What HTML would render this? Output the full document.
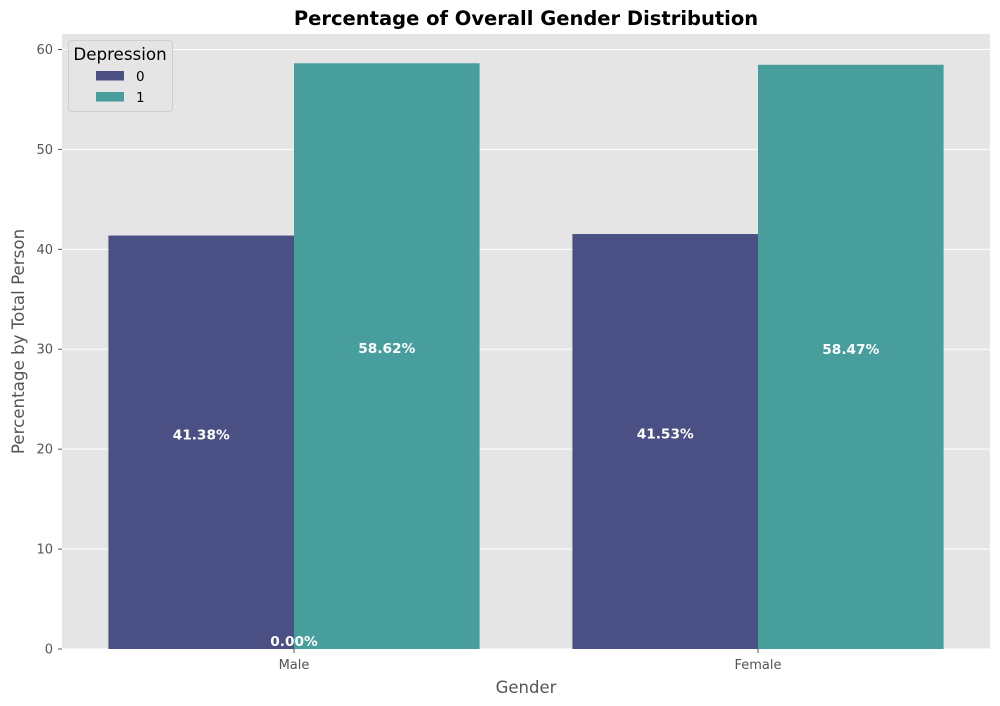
<!DOCTYPE html>
<html><head><meta charset="utf-8"><style>
body{margin:0;background:#fff;}
svg{display:block;font-family:"DejaVu Sans","Liberation Sans",sans-serif;}
</style></head><body>
<svg id="chart" width="1000" height="706"></svg>
<script>
const categories = ["Male", "Female"];
const series0 = [41.38, 41.53];
const series1 = [58.62, 58.47];
const zeroLabels = ["0.00%"];
const yTicks = [0, 10, 20, 30, 40, 50, 60];
const seriesNames = ["0", "1"];

const NS = "http://www.w3.org/2000/svg";
const svg = document.getElementById("chart");
const L = 62, R = 990, T = 34, B = 649;
const yMax = 61.55;
function yScale(v){ return B - v / yMax * (B - T); }
function xScale(i){ return L + (i + 0.5) / categories.length * (R - L); }
const bandW = (R - L) / categories.length;
const barW = bandW * 0.4;
function mk(tag, attrs, parent){
  const e = document.createElementNS(NS, tag);
  for (const k in attrs) e.setAttribute(k, attrs[k]);
  (parent || svg).appendChild(e);
  return e;
}
const bg = mk("rect", {x:L, y:T, width:R-L, height:B-T, fill:"#e5e5e5"});


yTicks.forEach(t => {
  const y = yScale(t);
  const g = mk("line", {x1:L, x2:R, y1:y, y2:y, stroke:"#fff", "stroke-width":1});
  
  
  mk("line", {x1:L-4, x2:L, y1:y, y2:y, stroke:"#555"});
  const tx = mk("text", {x:L-9, y:y+4.5, "text-anchor":"end", "font-size":13, fill:"#555"});
  tx.textContent = t;
  
  
});
categories.forEach((c, i) => {
  const x = xScale(i);
  mk("line", {x1:x, x2:x, y1:B, y2:B+4, stroke:"#555"});
  const tx = mk("text", {x:x, y:B+20, "text-anchor":"middle", "font-size":13, fill:"#555"});
  tx.textContent = c;
  
  
});
const colors = ["#4a5084", "#489d9d"];
[series0, series1].forEach((s, si) => {
  s.forEach((v, i) => {
    const x = xScale(i) - barW + si * barW;
    const r = mk("rect", {x:x, y:yScale(v), width:barW, height:B - yScale(v), fill:colors[si]});
    
    
  });
});
[series0, series1].forEach((s, si) => {
  s.forEach((v, i) => {
    const x = xScale(i) - barW / 2 + si * barW;
    const tx = mk("text", {x:x, y:yScale(v/2)-3, "text-anchor":"middle", "font-size":13.7, "font-weight":"bold", fill:"#fff"});
    tx.textContent = v.toFixed(2) + "%";
    
    
  });
});
zeroLabels.forEach(l => {
  const tx = mk("text", {x:xScale(0), y:B-3, "text-anchor":"middle", "font-size":13.7, "font-weight":"bold", fill:"#fff"});
  tx.textContent = l;
  
  
});
const title = mk("text", {x:(L+R)/2, y:25, "text-anchor":"middle", "font-size":19.5, "font-weight":"bold", fill:"#000"});
title.textContent = "Percentage of Overall Gender Distribution";


const xt = mk("text", {x:(L+R)/2, y:693, "text-anchor":"middle", "font-size":16.5, fill:"#555"});
xt.textContent = "Gender";


const yt = mk("text", {x:0, y:0, "text-anchor":"middle", "font-size":16.7, fill:"#555", transform:"translate(24," + ((T+B)/2) + ") rotate(-90)"});
yt.textContent = "Percentage by Total Person";


const lg = mk("g", {});


mk("rect", {x:68.5, y:40.5, width:104, height:71, rx:3, fill:"#e5e5e5", stroke:"#d0d0d0"}, lg);
const lt = mk("text", {x:120, y:60, "text-anchor":"middle", "font-size":16.7, fill:"#000"}, lg);
lt.textContent = "Depression";
seriesNames.forEach((n, i) => {
  const sw = mk("rect", {x:96, y:71 + i*21, width:28, height:9.5, fill:colors[i]}, lg);
  
  
  const t = mk("text", {x:136, y:81 + i*21, "font-size":13.5, fill:"#000"}, lg);
  t.textContent = n;
  
  
});
</script>
</body></html>
